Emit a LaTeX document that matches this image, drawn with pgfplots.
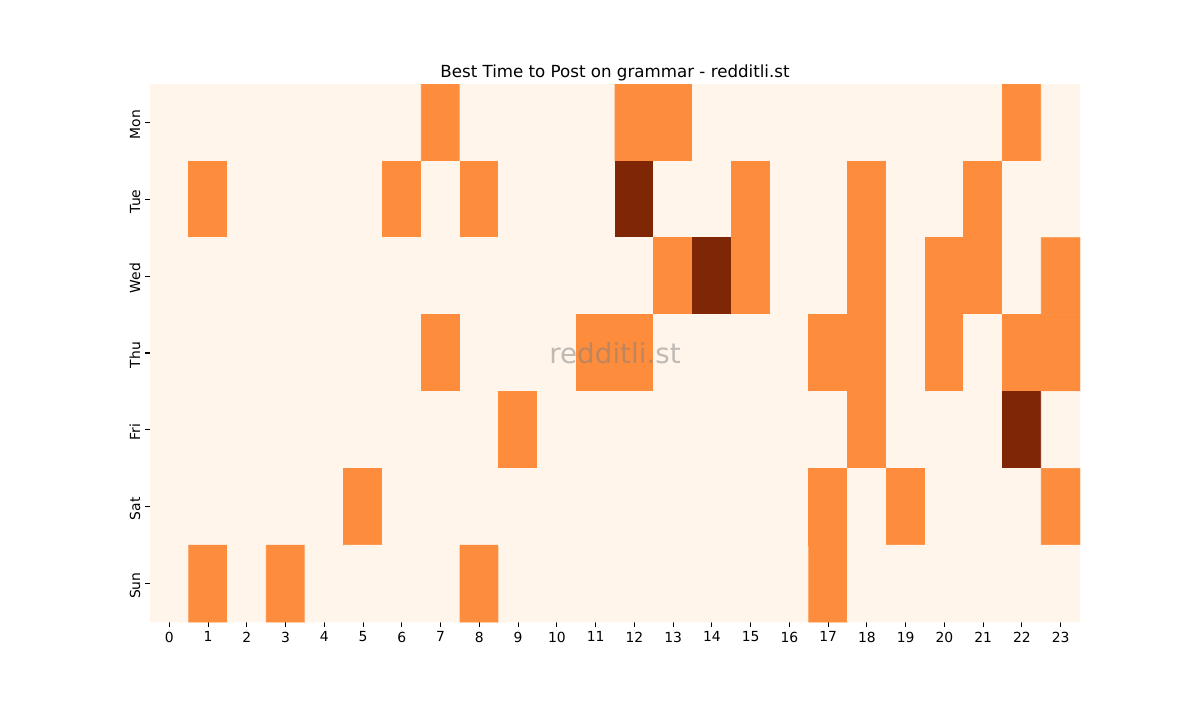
\documentclass[border=0pt]{standalone}
\usepackage{fontspec}
\setmainfont{DejaVu Sans}
\usepackage{pgfplots}
\pgfplotsset{compat=1.18}

\definecolor{ocream}{HTML}{FFF5EB}
\definecolor{omid}{HTML}{FD8D3C}
\definecolor{odark}{HTML}{7F2704}

\begin{document}
\begin{tikzpicture}
\path[use as bounding box] (0,0) rectangle (864pt,504pt);
\begin{axis}[
    at={(108pt,56.16pt)}, anchor=south west,
    scale only axis,
    width=669.6pt, height=387.36pt,
    xmin=-0.5, xmax=23.5, ymin=-0.5, ymax=6.5,
    y dir=reverse,
    axis line style={draw=none},
    xtick={0,...,23},
    ytick={0,...,6},
    yticklabels={Mon,Tue,Wed,Thu,Fri,Sat,Sun},
    yticklabel style={rotate=90, anchor=south, xshift=-1.5pt},
    tick align=outside,
    xtick pos=bottom, ytick pos=left,
    major tick length=3.5pt,
    tick style={black, line width=0.8pt},
    ticklabel style={font=\fontsize{10}{12}\selectfont},
    /pgf/number format/assume math mode=true,
    title={Best Time to Post on grammar - redditli.st},
    title style={font=\fontsize{12}{14}\selectfont, yshift=-7pt},
    colormap={oranges}{color(0)=(ocream) color(1)=(omid) color(2)=(odark)},
    point meta min=0, point meta max=2,
]
\addplot[matrix plot*, mesh/cols=24, point meta=explicit] coordinates {
(0,0)[0] (1,0)[0] (2,0)[0] (3,0)[0] (4,0)[0] (5,0)[0] (6,0)[0] (7,0)[1] (8,0)[0] (9,0)[0] (10,0)[0] (11,0)[0] (12,0)[1] (13,0)[1] (14,0)[0] (15,0)[0] (16,0)[0] (17,0)[0] (18,0)[0] (19,0)[0] (20,0)[0] (21,0)[0] (22,0)[1] (23,0)[0]

(0,1)[0] (1,1)[1] (2,1)[0] (3,1)[0] (4,1)[0] (5,1)[0] (6,1)[1] (7,1)[0] (8,1)[1] (9,1)[0] (10,1)[0] (11,1)[0] (12,1)[2] (13,1)[0] (14,1)[0] (15,1)[1] (16,1)[0] (17,1)[0] (18,1)[1] (19,1)[0] (20,1)[0] (21,1)[1] (22,1)[0] (23,1)[0]

(0,2)[0] (1,2)[0] (2,2)[0] (3,2)[0] (4,2)[0] (5,2)[0] (6,2)[0] (7,2)[0] (8,2)[0] (9,2)[0] (10,2)[0] (11,2)[0] (12,2)[0] (13,2)[1] (14,2)[2] (15,2)[1] (16,2)[0] (17,2)[0] (18,2)[1] (19,2)[0] (20,2)[1] (21,2)[1] (22,2)[0] (23,2)[1]

(0,3)[0] (1,3)[0] (2,3)[0] (3,3)[0] (4,3)[0] (5,3)[0] (6,3)[0] (7,3)[1] (8,3)[0] (9,3)[0] (10,3)[0] (11,3)[1] (12,3)[1] (13,3)[0] (14,3)[0] (15,3)[0] (16,3)[0] (17,3)[1] (18,3)[1] (19,3)[0] (20,3)[1] (21,3)[0] (22,3)[1] (23,3)[1]

(0,4)[0] (1,4)[0] (2,4)[0] (3,4)[0] (4,4)[0] (5,4)[0] (6,4)[0] (7,4)[0] (8,4)[0] (9,4)[1] (10,4)[0] (11,4)[0] (12,4)[0] (13,4)[0] (14,4)[0] (15,4)[0] (16,4)[0] (17,4)[0] (18,4)[1] (19,4)[0] (20,4)[0] (21,4)[0] (22,4)[2] (23,4)[0]

(0,5)[0] (1,5)[0] (2,5)[0] (3,5)[0] (4,5)[0] (5,5)[1] (6,5)[0] (7,5)[0] (8,5)[0] (9,5)[0] (10,5)[0] (11,5)[0] (12,5)[0] (13,5)[0] (14,5)[0] (15,5)[0] (16,5)[0] (17,5)[1] (18,5)[0] (19,5)[1] (20,5)[0] (21,5)[0] (22,5)[0] (23,5)[1]

(0,6)[0] (1,6)[1] (2,6)[0] (3,6)[1] (4,6)[0] (5,6)[0] (6,6)[0] (7,6)[0] (8,6)[1] (9,6)[0] (10,6)[0] (11,6)[0] (12,6)[0] (13,6)[0] (14,6)[0] (15,6)[0] (16,6)[0] (17,6)[1] (18,6)[0] (19,6)[0] (20,6)[0] (21,6)[0] (22,6)[0] (23,6)[0]
};
\node[text=gray, opacity=0.5, font=\fontsize{20}{24}\selectfont] at (axis cs:11.5,3) {redditli.st};
\end{axis}
\end{tikzpicture}
\end{document}
